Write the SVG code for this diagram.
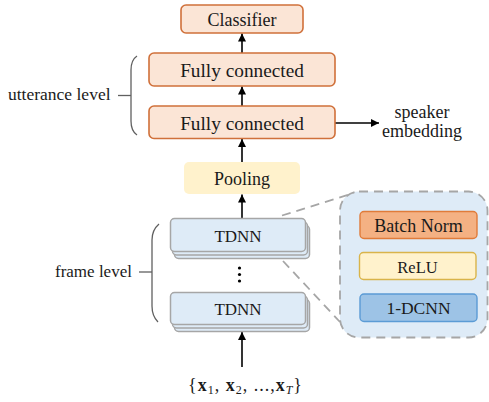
<svg xmlns="http://www.w3.org/2000/svg" width="489" height="402" viewBox="0 0 489 402">
  <style>
    text { font-family: "Liberation Serif", "DejaVu Serif", serif; fill: #1a1a1a; }
    .c { text-anchor: middle; }
    .fc { fill: #FBE5D6; stroke: #D0703A; stroke-width: 1.6; }
    .tdnn { fill: #DEEBF7; stroke: #A6A6A6; stroke-width: 1.5; }
    .arrow { stroke: #000; stroke-width: 1.6; fill: none; marker-end: url(#ah); }
    .dash { stroke: #A6A6A6; stroke-width: 1.8; fill: none; stroke-dasharray: 9 6; }
    .brace { stroke: #606060; stroke-width: 1.3; fill: none; }
  </style>
  <defs>
    <marker id="ah" markerUnits="userSpaceOnUse" markerWidth="9" markerHeight="9" refX="8" refY="4" orient="auto">
      <path d="M0,0 L8,4 L0,8 z" fill="#000"/>
    </marker>
  </defs>
  <rect width="489" height="402" fill="#fff"/>

  <g id="panel">
    <rect x="340" y="191.5" width="147.5" height="146" rx="19" fill="#DEEBF7" stroke="#A6A6A6" stroke-width="1.8" stroke-dasharray="9 6"/>
  </g>

  <g id="connectors">
    <line class="arrow" x1="242" y1="53" x2="242" y2="33.5"/>
    <line class="arrow" x1="242" y1="106" x2="242" y2="86.5"/>
    <line class="arrow" x1="242" y1="162" x2="242" y2="139"/>
    <line class="arrow" x1="335" y1="123" x2="379" y2="123"/>
    <line class="arrow" x1="242" y1="218.5" x2="242" y2="194.5"/>
    <line class="arrow" x1="242" y1="367" x2="242" y2="332"/>
    <line class="dash" x1="282" y1="215.5" x2="354" y2="193"/>
    <line class="dash" x1="283" y1="261" x2="340" y2="322"/>
    <path class="brace" d="M137,56 Q131,60 131,70 L131,121 Q131,131 137,135"/>
    <line class="brace" x1="118" y1="95.5" x2="131" y2="95.5"/>
    <path class="brace" d="M159,224 Q152,230 152,240 L152,306 Q152,316 158,322"/>
    <line class="brace" x1="139" y1="272" x2="152" y2="272"/>
  </g>

  <g id="classifier">
    <rect class="fc" x="181" y="5" width="122" height="28" rx="5"/>
    <text class="c" x="242" y="25.5" font-size="18">Classifier</text>
  </g>
  <g id="fc1">
    <rect class="fc" x="149" y="53" width="186" height="33" rx="5"/>
    <text class="c" x="242" y="76.5" font-size="19.3">Fully connected</text>
  </g>
  <g id="fc2">
    <rect class="fc" x="149" y="106" width="186" height="32.5" rx="5"/>
    <text class="c" x="242" y="129.5" font-size="19.3">Fully connected</text>
  </g>
  <g id="speaker-embedding">
    <text class="c" x="422" y="118" font-size="18">speaker</text>
    <text class="c" x="422" y="137" font-size="18">embedding</text>
  </g>
  <g id="pooling">
    <rect x="184" y="162" width="116" height="32" rx="5" fill="#FFF2CC"/>
    <text class="c" x="242" y="185" font-size="18">Pooling</text>
  </g>
  <g id="tdnn1">
    <rect class="tdnn" x="174.5" y="225.5" width="135" height="33" rx="4"/>
    <rect class="tdnn" x="172.5" y="222" width="135" height="33" rx="4"/>
    <rect class="tdnn" x="170.5" y="218.5" width="135" height="33" rx="4"/>
    <text class="c" x="238" y="241.5" font-size="17">TDNN</text>
  </g>
  <g id="dots">
    <circle cx="239.5" cy="268" r="1.6" fill="#000"/>
    <circle cx="239.5" cy="274.5" r="1.6" fill="#000"/>
    <circle cx="239.5" cy="281" r="1.6" fill="#000"/>
  </g>
  <g id="tdnn2">
    <rect class="tdnn" x="174.5" y="299.5" width="135" height="32" rx="4"/>
    <rect class="tdnn" x="172.5" y="296" width="135" height="32" rx="4"/>
    <rect class="tdnn" x="170.5" y="292.5" width="135" height="32" rx="4"/>
    <text class="c" x="238" y="314.5" font-size="17">TDNN</text>
  </g>
  <g id="batchnorm">
    <rect x="360" y="211.5" width="117" height="27" rx="4" fill="#F4B183" stroke="#E07B39" stroke-width="1.4"/>
    <text class="c" x="418.5" y="231.5" font-size="18">Batch Norm</text>
  </g>
  <g id="relu">
    <rect x="359.5" y="252.5" width="116.5" height="27" rx="4" fill="#FFF2CC" stroke="#D9B44A" stroke-width="1.4"/>
    <text class="c" x="417.5" y="272.5" font-size="16.5">ReLU</text>
  </g>
  <g id="cnn">
    <rect x="360" y="294" width="117" height="27.5" rx="4" fill="#9DC3E6" stroke="#5B9BD5" stroke-width="1.4"/>
    <text class="c" x="418.5" y="313.5" font-size="17.5">1-DCNN</text>
  </g>
  <g id="utterance-level">
    <text x="8" y="100" font-size="17.5">utterance level</text>
  </g>
  <g id="frame-level">
    <text x="55" y="277" font-size="17">frame level</text>
  </g>
  <g id="input">
    <text class="c" x="245.5" y="390.5" font-size="18" letter-spacing="1">{<tspan font-weight="bold">x</tspan><tspan font-size="12" dy="3">1</tspan><tspan dy="-3">, </tspan><tspan font-weight="bold">x</tspan><tspan font-size="12" dy="3">2</tspan><tspan dy="-3">, ...,</tspan><tspan font-weight="bold">x</tspan><tspan font-size="12" font-style="italic" dy="3">T</tspan><tspan dy="-3">}</tspan></text>
  </g>
</svg>
